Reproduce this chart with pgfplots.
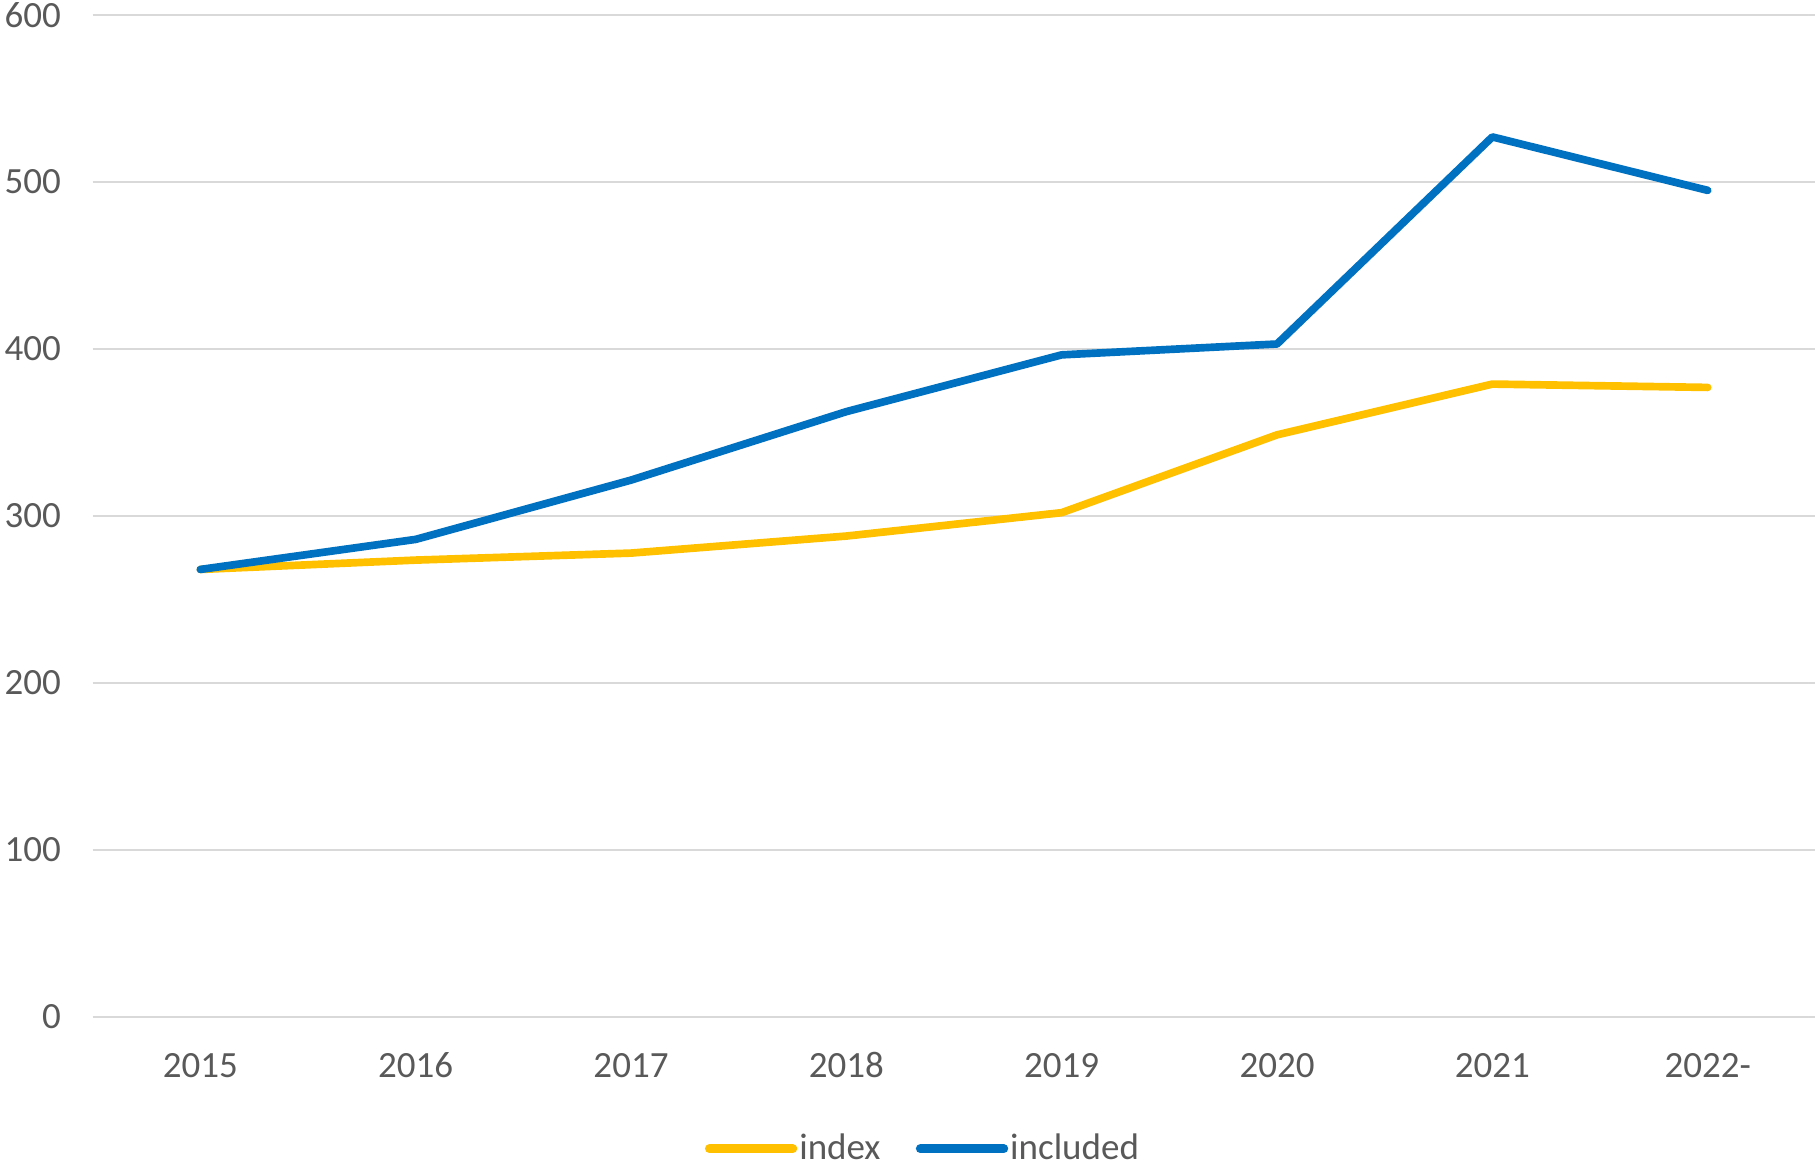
\documentclass[border=0pt]{standalone}
\usepackage{pgfplots}
\pgfplotsset{compat=1.18}
\usepackage{fontspec}
\setmainfont{Carlito}
\definecolor{cyellow}{HTML}{FFC000}
\definecolor{cblue}{HTML}{0070C0}
\definecolor{cgrid}{HTML}{D9D9D9}
\definecolor{ctext}{HTML}{595959}
\begin{document}
\begin{tikzpicture}
\begin{axis}[
  scale only axis,
  width=516.8pt, height=300.6pt,
  xmin=-0.5, xmax=7.5, ymin=0, ymax=600,
  xtick={0,...,7},
  xticklabels={2015,2016,2017,2018,2019,2020,2021,2022-},
  ytick={0,100,...,600},
  ymajorgrids,
  grid style={cgrid, line width=0.8pt},
  axis line style={draw=none},
  tick style={draw=none},
  /pgf/number format/assume math mode=true,
  tick label style={font=\fontsize{11.1}{13}\selectfont, text=ctext},
  yticklabel style={xshift=-6pt},
  xticklabel style={yshift=-7pt, text height=7.5pt, text depth=0pt},
  legend style={at={(0.482,-0.1315)}, anchor=center, draw=none, fill=none,
    font=\fontsize{11.1}{13}\selectfont, text=ctext, legend columns=2,
    nodes={inner xsep=0.6pt},
    /tikz/every even column/.append style={column sep=10pt}},
  legend cell align=left,
  legend image code/.code={\draw[#1, line cap=round, line width=2.7pt] (0pt,0pt) -- (25pt,0pt);},
]
\addplot[cyellow, line width=2.3pt, line cap=round, line join=round] coordinates {
(0,268) (1,273.6) (2,277.8) (3,288) (4,302) (5,348.6) (6,379) (7,377)};
\addlegendentry{index}
\addplot[cblue, line width=2.3pt, line cap=round, line join=round] coordinates {
(0,268) (1,286) (2,321.5) (3,362.5) (4,396.5) (5,403) (6,527) (7,495)};
\addlegendentry{included}
\end{axis}
\pgfresetboundingbox
\path[use as bounding box] (-27.8pt,-43.5pt) rectangle (517.6pt,305.1pt);
\end{tikzpicture}
\end{document}
